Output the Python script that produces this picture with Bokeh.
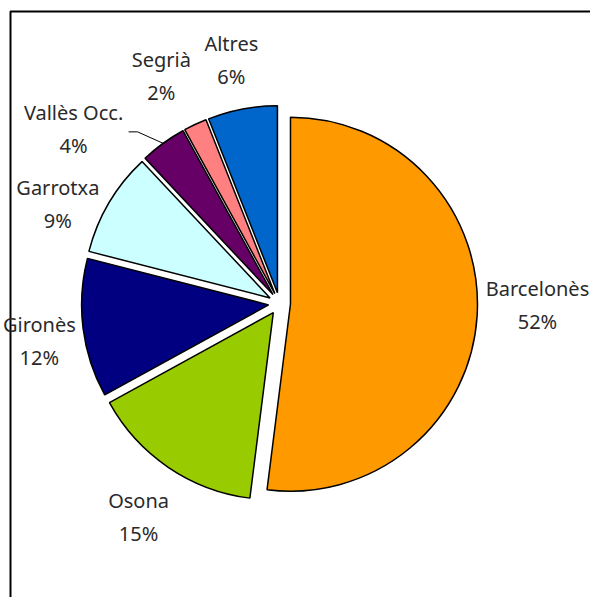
import math
from bokeh.plotting import figure
from bokeh.models import Range1d, ColumnDataSource
from bokeh.embed import file_html
from bokeh.resources import INLINE
from bokeh.core.properties import value

# ---- data ----
regions = ["Barcelonès", "Osona", "Gironès", "Garrotxa", "Vallès Occ.", "Segrià", "Altres"]
shares = [52, 15, 12, 9, 4, 2, 6]
colors = ["#FF9900", "#99CC00", "#000080", "#CCFFFF", "#660066", "#FF8080", "#0066CC"]

# ---- layout (canvas pixel coords; data x = px, data y = H - py) ----
W, H = 590, 597
CX, CY = 279, H - 303
R = 187
EXPLODE = 11
label_dist = [258, 256, 243, 243, 270, 256, 248]
label_nudge = [-3.2, -0.8, -1.6, -6.4, -13.7, -2.3, -0.4]
LINE_GAP = 16.5
FONT = "Noto Sans"
TEXT_COLOR = "#2a2a2a"

total = float(sum(shares))
cum = 0.0
wx, wy, sa, ea = [], [], [], []
lx, ny, py, names, pcts = [], [], [], [], []
bisectors = []
for i, s in enumerate(shares):
    t1 = cum / total * 360.0
    t2 = (cum + s) / total * 360.0
    cum += s
    mid = (t1 + t2) / 2.0
    bisectors.append(mid)
    dx, dy = math.sin(math.radians(mid)), math.cos(math.radians(mid))
    wx.append(CX + EXPLODE * dx)
    wy.append(CY + EXPLODE * dy)
    sa.append(math.radians(90 - t2))
    ea.append(math.radians(90 - t1))
    la = math.radians(mid + label_nudge[i])
    cx_l = CX + label_dist[i] * math.sin(la)
    cy_l = CY + label_dist[i] * math.cos(la)
    lx.append(cx_l)
    ny.append(cy_l + LINE_GAP)
    py.append(cy_l - LINE_GAP)
    names.append(regions[i])
    pcts.append("%d%%" % round(s / total * 100))

p = figure(width=W, height=H, output_backend="svg", toolbar_location=None,
           x_range=Range1d(0, W), y_range=Range1d(0, H),
           min_border=0, outline_line_color=None)
p.axis.visible = False
p.grid.visible = False
p.background_fill_color = "white"
p.border_fill_color = "white"

# chart-area frame (extends beyond the visible area on the right and bottom)
p.line(x=[10, 10, 700], y=[-100, H - 11, H - 11],
       line_color="black", line_width=2)

src = ColumnDataSource(dict(x=wx, y=wy, sa=sa, ea=ea, color=colors))
p.wedge(x="x", y="y", radius=R, start_angle="sa", end_angle="ea",
        direction="anticlock", fill_color="color", line_color="black",
        line_width=1.5, source=src)

# leader line for Vallès Occ.
vi = regions.index("Vallès Occ.")
edge_a = math.radians(bisectors[vi])
ex = CX + (R + EXPLODE) * math.sin(edge_a)
ey = CY + (R + EXPLODE) * math.cos(edge_a)
lcx, lcy = lx[vi], (ny[vi] + py[vi]) / 2
p.line(x=[lcx + 55, lcx + 64, ex], y=[lcy - 3, lcy - 3, ey],
       line_color="black", line_width=1)

lsrc = ColumnDataSource(dict(x=lx, ny=ny, py=py, name=names, pct=pcts))
p.text(x="x", y="ny", text="name", source=lsrc, text_align="center",
       text_baseline="middle", text_font=value(FONT), text_font_size="20px",
       text_color=TEXT_COLOR)
p.text(x="x", y="py", text="pct", source=lsrc, text_align="center",
       text_baseline="middle", text_font=value(FONT), text_font_size="20px",
       text_color=TEXT_COLOR)

open("out.html", "w").write(file_html(p, INLINE))
